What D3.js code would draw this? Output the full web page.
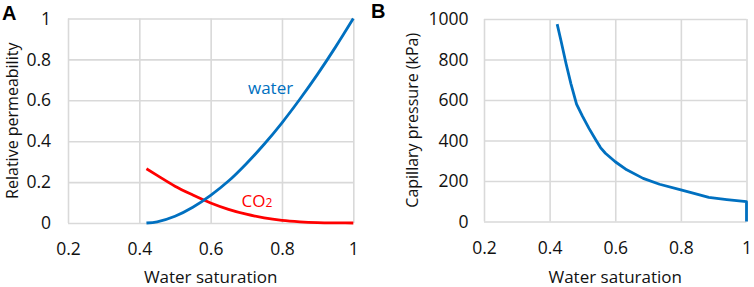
<!DOCTYPE html>
<html><head><meta charset="utf-8">
<script src="https://cdn.jsdelivr.net/npm/d3@7"></script>
<style>
html,body{margin:0;padding:0;background:#fff;}
svg{display:block;font-family:"Open Sans",Lato,sans-serif;}
</style></head>
<body>
<svg id="chart" width="754" height="287"></svg>
<script>
// ---- Data ----
const xTicks = [0.2, 0.4, 0.6, 0.8, 1];
const xTickLabels = ["0.2", "0.4", "0.6", "0.8", "1"];
const krTicks = [0, 0.2, 0.4, 0.6, 0.8, 1];
const krTickLabels = ["0", "0.2", "0.4", "0.6", "0.8", "1"];
const pcTicks = [0, 200, 400, 600, 800, 1000];
const pcTickLabels = ["0", "200", "400", "600", "800", "1000"];

const swKr = [0.42, 0.45, 0.50, 0.55, 0.60, 0.65, 0.70, 0.75, 0.80, 0.85, 0.90, 0.95, 1.00];
const krWater = [0, 0.006, 0.033, 0.077, 0.135, 0.205, 0.29, 0.385, 0.49, 0.605, 0.728, 0.86, 1.0];
const krCO2 = [0.265, 0.233, 0.18, 0.137, 0.098, 0.067, 0.043, 0.025, 0.013, 0.006, 0.002, 0.0005, 0];

const swPc = [0.423, 0.435, 0.45, 0.465, 0.482, 0.50, 0.52, 0.54, 0.555, 0.57, 0.60, 0.635, 0.685, 0.735, 0.80, 0.84, 0.885, 0.94, 1.0, 1.0];
const pc = [975, 890, 780, 680, 580, 520, 460, 405, 365, 337, 295, 255, 213, 184, 156, 139, 119, 108, 98, 0];

const BLUE = "#0070C0", RED = "#FF0000", GRID = "#d9d9d9", TXT = "#111";
const FONT = "'Open Sans', Lato, sans-serif";

const svg = d3.select("#chart");

function panel(opt) {
  const g = svg.append("g");
  const x = d3.scaleLinear().domain([0.2, 1]).range(opt.xr);
  const y = d3.scaleLinear().domain(opt.yd).range(opt.yr);
  const h = opt.yr[0] - opt.yr[1];
  const w = opt.xr[1] - opt.xr[0];

  const xa = g.append("g").attr("transform", `translate(0,${opt.yr[0]})`)
    .call(d3.axisBottom(x).tickValues(xTicks).tickFormat((d, i) => xTickLabels[i])
      .tickSizeInner(-h).tickSizeOuter(0).tickPadding(opt.xpad));
  const ya = g.append("g").attr("transform", `translate(${opt.xr[0]},0)`)
    .call(d3.axisLeft(y).tickValues(opt.yt).tickFormat((d, i) => opt.ytl[i])
      .tickSizeInner(-w).tickSizeOuter(0).tickPadding(opt.ypad));
  [xa, ya].forEach(a => {
    a.select(".domain").remove();
    a.selectAll("line").attr("stroke", GRID).attr("stroke-width", 1.6);
    a.selectAll("text").attr("fill", TXT).style("font-size", "17.5px").style("font-family", FONT);
  });

  g.append("text").attr("x", (opt.xr[0] + opt.xr[1]) / 2).attr("y", 283)
    .attr("text-anchor", "middle").attr("fill", TXT).style("font-size", "17px")
    .text("Water saturation");
  g.append("text").attr("transform", `translate(${opt.ytx},${(opt.yr[0] + opt.yr[1]) / 2}) rotate(-90)`)
    .attr("text-anchor", "middle").attr("fill", TXT).style("font-size", "16px")
    .text(opt.ytitle);
  g.append("text").attr("x", opt.lx).attr("y", opt.ly)
    .style("font-family", "'Liberation Sans', Arial, sans-serif").style("font-weight", "bold")
    .style("font-size", "20px").attr("fill", "#000").text(opt.letter);
  return {g, x, y};
}

// Panel A
const A = panel({xr: [68, 353.3], yr: [223, 18.5], yd: [0, 1], yt: krTicks, ytl: krTickLabels,
  xpad: 20, ypad: 17, ytx: 17.5, ytitle: "Relative permeability", letter: "A", lx: 2, ly: 20});
const lineA = d3.line().x((d, i) => A.x(swKr[i])).y(d => A.y(d)).curve(d3.curveMonotoneX);
A.g.append("path").datum(krCO2).attr("d", lineA).attr("fill", "none").attr("stroke", RED).attr("stroke-width", 2.8);
A.g.append("path").datum(krWater).attr("d", lineA).attr("fill", "none").attr("stroke", BLUE).attr("stroke-width", 2.8);
A.g.append("text").attr("x", 248).attr("y", 93.5).attr("fill", BLUE).style("font-size", "17px").text("water");
const co2 = A.g.append("text").attr("x", 241.5).attr("y", 207).attr("fill", RED).style("font-size", "17px");
co2.append("tspan").text("CO");
co2.append("tspan").style("font-size", "12px").text("2");

// Panel B
const B = panel({xr: [484, 746.5], yr: [221.5, 19], yd: [0, 1000], yt: pcTicks, ytl: pcTickLabels,
  xpad: 20, ypad: 15.5, ytx: 418, ytitle: "Capillary pressure (kPa)", letter: "B", lx: 371, ly: 17.5});
const lineB = d3.line().x((d, i) => B.x(swPc[i])).y(d => B.y(d));
B.g.append("path").datum(pc).attr("d", lineB).attr("fill", "none").attr("stroke", BLUE).attr("stroke-width", 2.8).attr("stroke-linejoin", "round");
</script>
</body></html>
